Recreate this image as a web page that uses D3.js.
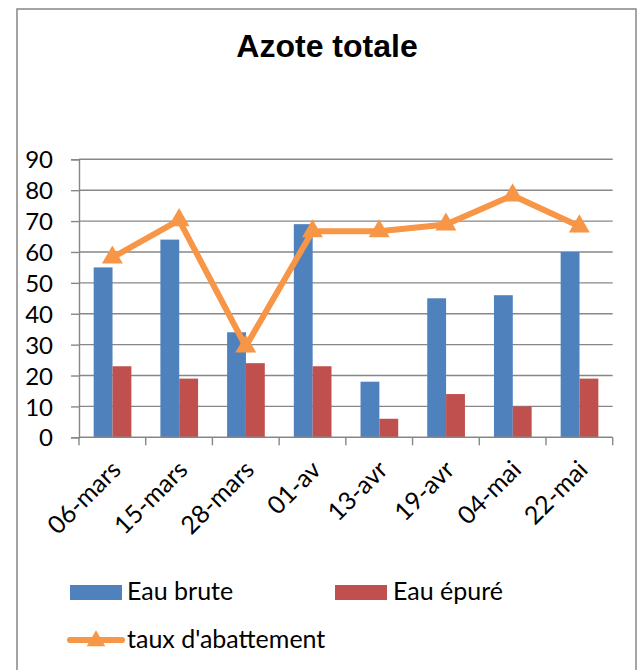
<!DOCTYPE html>
<html>
<head>
<meta charset="utf-8">
<script src="https://cdn.jsdelivr.net/npm/d3@7"></script>
<style>
  body { margin: 0; background: #fff; }
  text { font-family: Lato, "Noto Sans", sans-serif; fill: #000; }
</style>
</head>
<body>
<div id="chart"></div>
<script>
var svgWidth = 638;
var svgHeight = 670;

// data
var dates = ["06-mars", "15-mars", "28-mars", "01-av", "13-avr", "19-avr", "04-mai", "22-mai"];
var eauBrute = [55, 64, 34, 69, 18, 45, 46, 60];
var eauEpure = [23, 19, 24, 23, 6, 14, 10, 19];
var tauxAbattement = [58.2, 70.3, 29.4, 66.7, 66.7, 68.9, 78.3, 68.3];
var yTicks = [0, 10, 20, 30, 40, 50, 60, 70, 80, 90];

var blue = "#4F81BD", red = "#C0504D", orange = "#F79646", grid = "#878787";

var margin = { top: 159.3, right: 25.3, bottom: 232.7, left: 79 };
var width = svgWidth - margin.left - margin.right;
var height = svgHeight - margin.top - margin.bottom;

var svg = d3.select("#chart")
  .append("svg")
  .attr("width", svgWidth)
  .attr("height", svgHeight);

// outer frame
svg.append("rect")
  .attr("x", 17).attr("y", 9)
  .attr("width", 619).attr("height", 680)
  .attr("fill", "none")
  .attr("stroke", grid)
  .attr("stroke-width", 1.5);

svg.append("text")
  .attr("x", 327).attr("y", 57)
  .attr("text-anchor", "middle")
  .style("font-family", "'Liberation Sans', Arial, sans-serif")
  .style("font-weight", "bold")
  .style("font-size", "32px")
  .text("Azote totale");

var chartGroup = svg.append("g")
  .attr("transform", `translate(${margin.left}, ${margin.top})`);

var xScale = d3.scaleBand()
  .domain(dates)
  .range([0, width]);

var bw = xScale.bandwidth();
var xSub = d3.scaleBand()
  .domain(["brute", "epure"])
  .range([0.22 * bw, 0.785 * bw]);

var yScale = d3.scaleLinear()
  .domain([0, 90])
  .range([height, 0]);

// gridlines
chartGroup.selectAll(".grid")
  .data(yTicks.slice(1))
  .enter()
  .append("line")
  .attr("x1", 0).attr("x2", width)
  .attr("y1", d => yScale(d)).attr("y2", d => yScale(d))
  .attr("stroke", grid)
  .attr("stroke-width", 1.4);

// y axis
var leftAxis = d3.axisLeft(yScale).tickValues(yTicks).tickSize(8).tickPadding(18);
var yAxisG = chartGroup.append("g").call(leftAxis);
yAxisG.select(".domain").attr("stroke", grid).attr("stroke-width", 1.4);
yAxisG.selectAll(".tick line").attr("stroke", grid).attr("stroke-width", 1.4);
yAxisG.selectAll(".tick text")
  .style("font-size", "24px")
  .style("font-family", "Lato, 'Noto Sans', sans-serif")
  .attr("fill", "#000")
  .attr("dy", "0.36em");

// bars
chartGroup.selectAll(".brute")
  .data(eauBrute)
  .enter()
  .append("rect")
  .attr("x", (d, i) => xScale(dates[i]) + xSub("brute"))
  .attr("y", d => yScale(d))
  .attr("width", xSub.bandwidth())
  .attr("height", d => height - yScale(d))
  .attr("fill", blue);

chartGroup.selectAll(".epure")
  .data(eauEpure)
  .enter()
  .append("rect")
  .attr("x", (d, i) => xScale(dates[i]) + xSub("epure"))
  .attr("y", d => yScale(d))
  .attr("width", xSub.bandwidth())
  .attr("height", d => height - yScale(d))
  .attr("fill", red);

// x axis
var xAxisG = chartGroup.append("g")
  .attr("transform", `translate(0, ${height})`);
xAxisG.append("line")
  .attr("x1", 0).attr("x2", width)
  .attr("stroke", grid).attr("stroke-width", 1.4);
xAxisG.selectAll(".xtick")
  .data(d3.range(dates.length + 1))
  .enter()
  .append("line")
  .attr("x1", i => i * bw).attr("x2", i => i * bw)
  .attr("y1", 0).attr("y2", 8)
  .attr("stroke", grid).attr("stroke-width", 1.4);
xAxisG.selectAll(".xlabel")
  .data(dates)
  .enter()
  .append("text")
  .attr("text-anchor", "end")
  .style("font-size", "25px")
  .attr("transform", d => `translate(${xScale(d) + bw / 2 + 10}, 34) rotate(-45)`)
  .text(d => d);

// line
var line = d3.line()
  .x((d, i) => xScale(dates[i]) + bw / 2)
  .y(d => yScale(d));

chartGroup.append("path")
  .datum(tauxAbattement)
  .attr("d", line)
  .attr("fill", "none")
  .attr("stroke", orange)
  .attr("stroke-width", 6)
  .attr("stroke-linejoin", "round");

var tri = d3.symbol().type(d3.symbolTriangle).size(190);
chartGroup.selectAll(".marker")
  .data(tauxAbattement)
  .enter()
  .append("path")
  .attr("d", tri)
  .attr("transform", (d, i) => `translate(${xScale(dates[i]) + bw / 2}, ${yScale(d)})`)
  .attr("fill", orange);

// legend
var legend = svg.append("g");
legend.append("rect").attr("x", 70).attr("y", 585).attr("width", 52).attr("height", 15).attr("fill", blue);
legend.append("text").attr("x", 127).attr("y", 600).style("font-size", "25px").text("Eau brute");
legend.append("rect").attr("x", 335).attr("y", 585).attr("width", 52).attr("height", 15).attr("fill", red);
legend.append("text").attr("x", 393).attr("y", 600).style("font-size", "25px").text("Eau épuré");
legend.append("line").attr("x1", 70).attr("x2", 122).attr("y1", 640).attr("y2", 640)
  .attr("stroke", orange).attr("stroke-width", 6).attr("stroke-linecap", "round");
legend.append("path").attr("d", d3.symbol().type(d3.symbolTriangle).size(150))
  .attr("transform", "translate(96, 641)").attr("fill", orange);
legend.append("text").attr("x", 127).attr("y", 648).style("font-size", "25px").text("taux d'abattement");
</script>
</body>
</html>
